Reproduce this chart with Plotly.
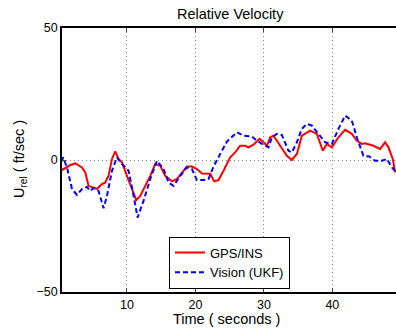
import plotly.graph_objects as go

# GPS/INS (red, solid)
gps_t = [0.51, 1.72, 2.45, 3.43, 3.91, 4.16, 4.39, 5.62, 6.35, 6.83, 7.31, 7.81, 8.29, 8.77,
         9.27, 10.0, 10.73, 11.36, 11.94, 12.92, 13.4, 14.13, 14.86, 15.59, 16.57, 17.3,
         18.03, 18.76, 19.49, 20.22, 20.95, 22.16, 22.74, 23.37, 24.1, 25.08, 25.81, 26.53,
         27.26, 27.75, 28.48, 29.36, 29.94, 30.44, 30.92, 31.4, 31.9, 32.63, 33.36, 34.09,
         34.82, 35.55, 36.76, 37.74, 38.61, 39.2, 39.93, 40.89, 41.87, 42.85, 43.58, 44.31,
         44.79, 46.0, 46.98, 47.71, 48.2, 48.83, 49.17]
gps_u = [-3.8, -1.9, -1.3, -2.8, -4.7, -7.2, -9.8, -11.0, -9.1, -8.5, -6.0, 0.4, 3.3, 0.4,
         -0.9, -6.0, -11.0, -15.2, -13.6, -8.5, -6.0, -1.5, -2.2, -6.0, -8.1, -7.2,
         -4.7, -2.5, -2.5, -3.4, -5.1, -5.2, -8.1, -7.6, -4.1, 1.0, 2.9, 5.4,
         5.4, 4.8, 5.8, 8.0, 6.7, 5.4, 8.6, 9.2, 7.3, 4.2, 1.6, 0.0,
         2.3, 9.2, 11.1, 9.9, 3.5, 6.1, 4.8, 8.6, 11.4, 9.9, 7.3, 6.1,
         6.3, 5.4, 4.2, 6.7, 4.8, 0.4, -4.7]

# Vision (UKF) (blue, dashed)
ukf_t = [0.51, 0.66, 1.24, 1.97, 2.7, 3.43, 4.16, 4.64, 5.12, 5.85, 6.58, 7.08, 7.81, 8.54,
         9.27, 10.23, 10.88, 11.55, 12.42, 13.4, 14.38, 15.34, 16.07, 16.8, 17.78, 18.76,
         19.49, 20.22, 21.18, 21.91, 22.64, 23.62, 24.6, 26.06, 27.02, 28.25, 28.98, 29.71,
         30.67, 31.17, 31.9, 32.63, 33.59, 34.09, 34.82, 35.55, 36.28, 37.01, 37.74, 38.95,
         39.93, 40.89, 41.87, 42.85, 43.58, 44.54, 45.42, 46.25, 47.23, 47.96, 48.69, 49.17]
ukf_u = [-0.5, 1.0, -2.8, -11.0, -13.2, -11.0, -10.2, -11.7, -10.6, -11.7, -18.3, -13.6, -4.1, 1.0,
         -1.5, -4.1, -12.3, -21.8, -15.5, -7.2, -0.3, -3.4, -8.5, -9.8, -6.0, -2.8,
         -3.4, -7.6, -7.6, -7.2, -2.5, 2.0, 7.0, 10.5, 9.2, 8.9, 7.3, 6.1,
         4.8, 8.6, 9.9, 9.5, 3.5, 2.9, 6.7, 11.8, 13.7, 13.0, 10.5, 6.7,
         6.1, 11.8, 16.8, 14.9, 8.6, 1.6, 1.3, -0.3, -0.3, 0.4, -2.8, -4.1]

x_ticks = [10, 20, 30, 40]
y_ticks = [-50, 0, 50]

FONT = "Liberation Sans, Arial, sans-serif"

fig = go.Figure()
fig.add_trace(go.Scatter(x=gps_t, y=gps_u, mode="lines", name="GPS/INS",
                         line=dict(color="#ff0000", width=2)))
fig.add_trace(go.Scatter(x=ukf_t, y=ukf_u, mode="lines", name="Vision (UKF)",
                         line=dict(color="#0000ff", width=2, dash="5px,3px")))

fig.update_layout(
    width=396, height=329,
    margin=dict(l=62, r=0, t=28, b=37),
    paper_bgcolor="white", plot_bgcolor="white",
    font=dict(family=FONT, size=12, color="black"),
    showlegend=True,
    legend=dict(x=(169 - 62) / 334, y=(292 - 236.5) / 264, xanchor="left", yanchor="top",
                bordercolor="black", borderwidth=1, bgcolor="white",
                font=dict(size=13, family=FONT), tracegroupgap=0, itemwidth=30),
    xaxis=dict(range=[0.51, 49.3], tickvals=x_ticks, ticks="inside", ticklen=4,
               showline=True, linecolor="black", linewidth=1.5, mirror="ticks",
               showgrid=True, gridcolor="#8c8c8c", griddash="1px,3px", gridwidth=1,
               zeroline=False, tickfont=dict(size=12.5)),
    yaxis=dict(range=[-50, 50], tickvals=y_ticks, ticks="inside", ticklen=4,
               showline=True, linecolor="black", linewidth=1.5, mirror=False,
               showgrid=True, gridcolor="#8c8c8c", griddash="1px,3px", gridwidth=1,
               zeroline=False, tickfont=dict(size=12.5)),
    annotations=[
        dict(text="Relative Velocity", xref="paper", yref="paper", x=0.503, y=1,
             yshift=4, xanchor="center", yanchor="bottom", showarrow=False,
             font=dict(size=14.5)),
        dict(text="Time ( seconds )", xref="paper", yref="paper", x=(226 - 62) / 334, y=0,
             yshift=-17, xanchor="center", yanchor="top", showarrow=False,
             font=dict(size=14.5)),
        dict(text="U<sub>rel</sub> ( ft/sec )", xref="paper", yref="paper",
             x=(20 - 62) / 334, y=(292 - 159) / 264, xanchor="center", yanchor="middle",
             textangle=-90, showarrow=False, font=dict(size=14.5)),
    ],
)

fig.write_html("out.html")
